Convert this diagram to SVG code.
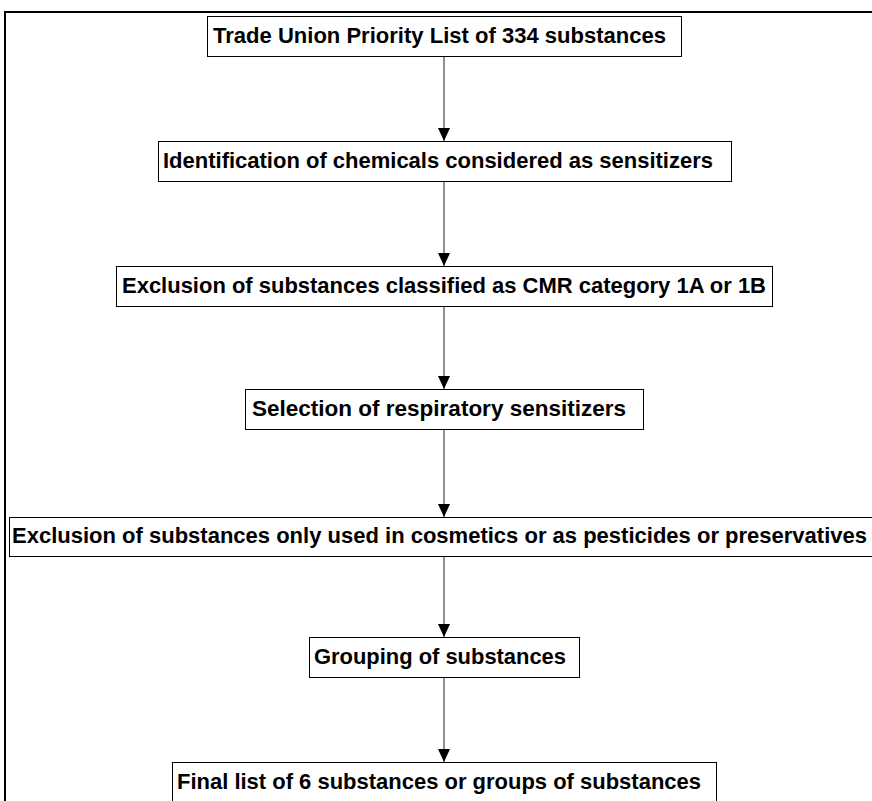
<svg xmlns="http://www.w3.org/2000/svg" width="872" height="801" viewBox="0 0 872 801">
<style>
  .box { fill: #ffffff; stroke: #000000; stroke-width: 1; }
  .lbl { font-family: "Liberation Sans", Arial, sans-serif; font-weight: bold; font-size: 22px; fill: #000000; }
  .conn { stroke: #222222; stroke-width: 1; fill: none; marker-end: url(#arrow); }
  .frame { fill: none; stroke: #000000; stroke-width: 2; }
</style>
<defs>
  <marker id="arrow" markerUnits="userSpaceOnUse" viewBox="0 0 13 12" refX="13" refY="6" markerWidth="13" markerHeight="12" orient="auto">
    <path d="M0,0 L13,6 L0,12 Z" fill="#000000"/>
  </marker>
</defs>
<rect width="872" height="801" fill="#ffffff"/>
<rect class="frame" x="5" y="12" width="900" height="820"/>
<g id="connectors">
  <line class="conn" x1="444" y1="56.5" x2="444" y2="141"/>
  <line class="conn" x1="444" y1="181.5" x2="444" y2="266"/>
  <line class="conn" x1="444" y1="306.5" x2="444" y2="389"/>
  <line class="conn" x1="444" y1="429.5" x2="444" y2="517"/>
  <line class="conn" x1="444" y1="556.5" x2="444" y2="637"/>
  <line class="conn" x1="444" y1="677.5" x2="444" y2="762"/>
</g>
<g id="n1">
  <rect class="box" x="207.5" y="16.5" width="474" height="40"/>
  <text class="lbl" x="213" y="43" textLength="453" lengthAdjust="spacingAndGlyphs">Trade Union Priority List of 334 substances</text>
</g>
<g id="n2">
  <rect class="box" x="158.5" y="141.5" width="573" height="40"/>
  <text class="lbl" x="163" y="168" textLength="550" lengthAdjust="spacingAndGlyphs">Identification of chemicals considered as sensitizers</text>
</g>
<g id="n3">
  <rect class="box" x="116.5" y="266.5" width="656" height="40"/>
  <text class="lbl" x="122" y="293" textLength="644" lengthAdjust="spacingAndGlyphs">Exclusion of substances classified as CMR category 1A or 1B</text>
</g>
<g id="n4">
  <rect class="box" x="245.5" y="389.5" width="398" height="40"/>
  <text class="lbl" x="252" y="416" textLength="374" lengthAdjust="spacingAndGlyphs">Selection of respiratory sensitizers</text>
</g>
<g id="n5">
  <rect class="box" x="9.5" y="517.5" width="880" height="39"/>
  <text class="lbl" x="12" y="543" textLength="855" lengthAdjust="spacingAndGlyphs">Exclusion of substances only used in cosmetics or as pesticides or preservatives</text>
</g>
<g id="n6">
  <rect class="box" x="309.5" y="637.5" width="270" height="40"/>
  <text class="lbl" x="314" y="664" textLength="252" lengthAdjust="spacingAndGlyphs">Grouping of substances</text>
</g>
<g id="n7">
  <rect class="box" x="172.5" y="762.5" width="544" height="40"/>
  <text class="lbl" x="177" y="789" textLength="524" lengthAdjust="spacingAndGlyphs">Final list of 6 substances or groups of substances</text>
</g>
</svg>
